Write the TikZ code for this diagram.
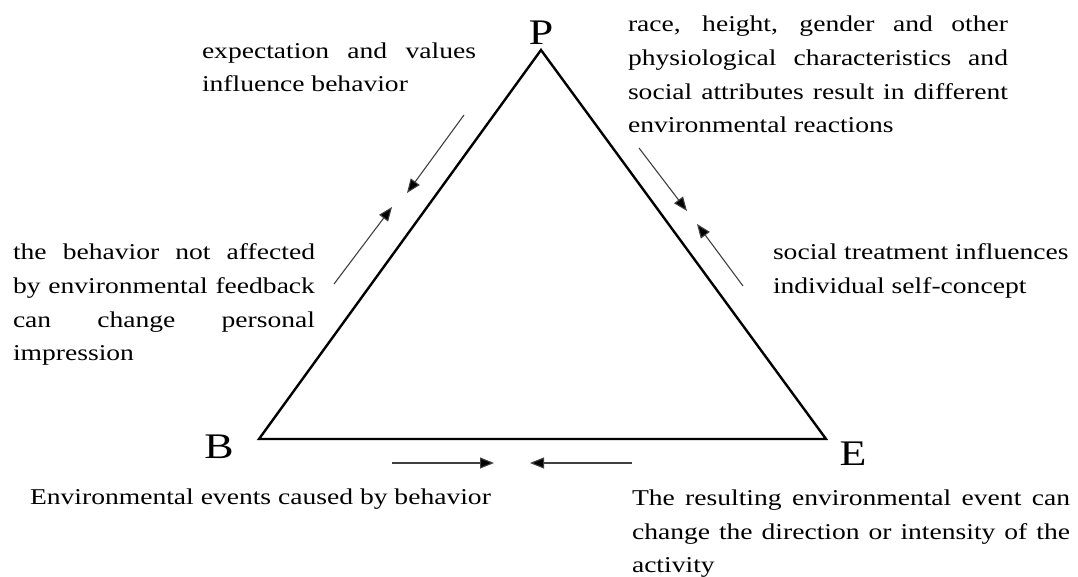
\documentclass[tikz,border=0pt]{standalone}
\usepackage{fontspec}
\setmainfont{Liberation Serif}[FakeStretch=1.22]
\usetikzlibrary{arrows.meta}
\tikzset{
  txt/.style={anchor=base west, inner sep=0pt, outer sep=0pt, font=\fontsize{22.6}{33.5}\selectfont},
  lbl/.style={anchor=base, inner sep=0pt, font=\fontsize{36}{40}\selectfont},
  side/.style={line width=2.4pt, line join=miter},
  arr/.style={line width=1.1pt, draw=black!75, -{Triangle[length=14pt,width=11pt,fill=black]}}
}
\newcommand{\jline}[2]{\makebox[#1][s]{#2}}
\begin{document}
\begin{tikzpicture}[x=1pt,y=-1pt]
\useasboundingbox (0,0) rectangle (1078,577);
% triangle
\coordinate (P) at (541,50);
\coordinate (B) at (259,439);
\coordinate (E) at (826,439);
\draw[side] (P) -- (B) -- (E) -- cycle;
% vertex labels
\node[lbl] (lp) at (541,45) {P};
\node[lbl] (lb) at (219,458) {B};
\node[lbl] (le) at (853,465) {E};
% arrows
\coordinate (a1s) at (464,115); \coordinate (a1e) at (407,193);
\coordinate (a2s) at (334,284); \coordinate (a2e) at (392,207);
\coordinate (a3s) at (639,148); \coordinate (a3e) at (687,211);
\coordinate (a4s) at (743,286); \coordinate (a4e) at (697,224);
\coordinate (a5s) at (392,463); \coordinate (a5e) at (494,463);
\coordinate (a6s) at (632,463); \coordinate (a6e) at (530,463);
\draw[arr] (a1s) -- (a1e);
\draw[arr] (a2s) -- (a2e);
\draw[arr] (a3s) -- (a3e);
\draw[arr] (a4s) -- (a4e);
\draw[arr] (a5s) -- (a5e);
\draw[arr] (a6s) -- (a6e);
% texts
\node[txt] (t1a) at (202,59) {\jline{274pt}{expectation and values}};
\node[txt] (t1b) at (202,92) {influence behavior};
\node[txt] (t2a) at (628,32) {\jline{380pt}{race, height, gender and other}};
\node[txt] (t2b) at (628,66) {\jline{380pt}{physiological characteristics and}};
\node[txt] (t2c) at (628,100) {\jline{380pt}{social attributes result in different}};
\node[txt] (t2d) at (628,133) {environmental reactions};
\node[txt] (t3a) at (13,259) {\jline{302pt}{the behavior not affected}};
\node[txt] (t3b) at (13,293) {\jline{302pt}{by environmental feedback}};
\node[txt] (t3c) at (13,327) {\jline{302pt}{can change personal}};
\node[txt] (t3d) at (13,360) {impression};
\node[txt] (t4a) at (773,259) {social treatment influences};
\node[txt] (t4b) at (773,293) {individual self-concept};
\node[txt] (t5) at (30,504) {Environmental events caused by behavior};
\node[txt] (t6a) at (632,505) {\jline{438pt}{The resulting environmental event can}};
\node[txt] (t6b) at (632,539) {\jline{438pt}{change the direction or intensity of the}};
\node[txt] (t6c) at (632,572) {activity};
\end{tikzpicture}
\end{document}
